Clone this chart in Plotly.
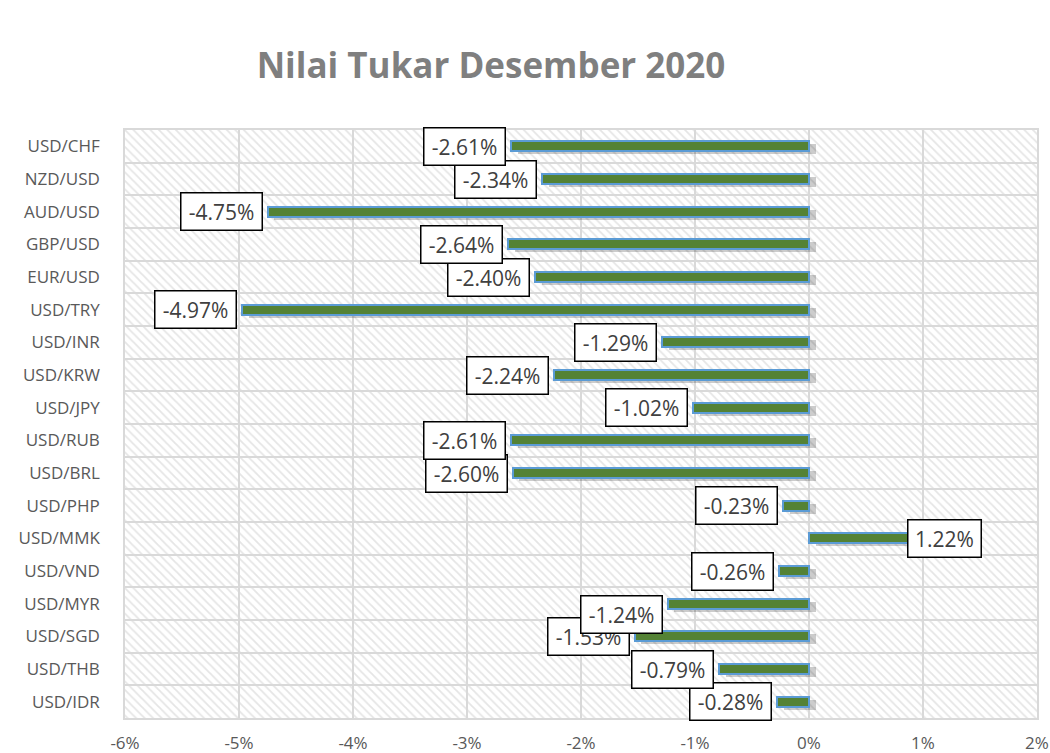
import plotly.graph_objects as go

# ---- data ----
categories = ["USD/CHF", "NZD/USD", "AUD/USD", "GBP/USD", "EUR/USD", "USD/TRY",
              "USD/INR", "USD/KRW", "USD/JPY", "USD/RUB", "USD/BRL", "USD/PHP",
              "USD/MMK", "USD/VND", "USD/MYR", "USD/SGD", "USD/THB", "USD/IDR"]
changes = [-2.61, -2.34, -4.75, -2.64, -2.40, -4.97, -1.29, -2.24, -1.02,
           -2.61, -2.60, -0.23, 1.22, -0.26, -1.24, -1.53, -0.79, -0.28]
x_ticks = [-6, -5, -4, -3, -2, -1, 0, 1, 2]
x_ticklabels = [f"{t}%" for t in x_ticks]
title_text = "Nilai Tukar Desember 2020"

# ---- styling ----
FONT = "Open Sans"
GRID = "#d9d9d9"
BAR_FILL = "#548235"
BAR_LINE = "#5b9bd5"
BAR_W = 0.3
label_nudge_y = {"USD/MYR": -11}

n = len(categories)
pos = list(range(n))
xmin, xmax = x_ticks[0], x_ticks[-1]

fig = go.Figure()

# hatched plot background (subplot 1)
fig.add_trace(go.Bar(
    y=pos, x=[xmax - xmin] * n, base=[xmin] * n, orientation="h", width=1,
    marker=dict(color="white", line=dict(width=0),
                pattern=dict(shape="\\", fgcolor="#cccccc", bgcolor="white",
                             size=6, solidity=0.3)),
    xaxis="x", yaxis="y", hoverinfo="skip", showlegend=False))

# shadow of the bars (subplot 2)
fig.add_trace(go.Bar(
    y=pos, x=changes, base=[0.06] * n, orientation="h", width=BAR_W,
    offset=-BAR_W / 2 + 0.09,
    marker=dict(color="rgba(0,0,0,0.2)", line=dict(width=0)),
    xaxis="x2", yaxis="y2", hoverinfo="skip", showlegend=False))

# data bars
fig.add_trace(go.Bar(
    y=pos, x=changes, orientation="h", width=BAR_W,
    marker=dict(color=BAR_FILL, line=dict(color=BAR_LINE, width=2)),
    xaxis="x2", yaxis="y2", showlegend=False))

annotations = []
for i in reversed(range(n)):
    v = changes[i]
    neg = v < 0
    annotations.append(dict(
        x=v, y=i, xref="x2", yref="y2", text=f"{v:.2f}%", showarrow=False,
        xanchor="right" if neg else "center", xshift=-5 if neg else -4,
        yshift=label_nudge_y.get(categories[i], 0),
        font=dict(family=FONT, size=21, color="#404040"),
        bgcolor="white", bordercolor="black", borderwidth=1.5, borderpad=4,
        width=72 if neg else 64, align="center"))

fig.update_layout(
    width=1050, height=753,
    margin=dict(l=125, r=13, t=130, b=35, autoexpand=False),
    paper_bgcolor="white", plot_bgcolor="rgba(0,0,0,0)",
    barmode="overlay", bargap=0,
    title=dict(text=title_text, x=491 / 1050, xanchor="center", xref="container",
               y=1 - 66 / 753, yanchor="middle", yref="container",
               font=dict(family=FONT, size=35, color="#7f7f7f", weight=700)),
    xaxis=dict(domain=[0, 1], range=[xmin, xmax], visible=False, anchor="y",
               fixedrange=True),
    yaxis=dict(domain=[0, 1], range=[n - 0.5, -0.5], visible=False, anchor="x",
               fixedrange=True),
    xaxis2=dict(domain=[0, 1], range=[xmin, xmax], anchor="y2", automargin=False,
                tickmode="array", tickvals=x_ticks, ticktext=x_ticklabels,
                showgrid=True, gridcolor=GRID, gridwidth=1.5, zeroline=False,
                showline=True, linecolor=GRID, linewidth=1.5, mirror=True,
                ticks="", ticklabelstandoff=9,
                tickfont=dict(family=FONT, size=17, color="#595959")),
    yaxis2=dict(domain=[0, 1], range=[n - 0.5, -0.5], anchor="x2", automargin=False,
                tickmode="array", tickvals=pos, ticktext=categories,
                showgrid=False, zeroline=False,
                minor=dict(tick0=0.5, dtick=1, showgrid=True, gridcolor=GRID,
                           gridwidth=1.5, ticks=""),
                showline=True, linecolor=GRID, linewidth=1.5, mirror=True,
                ticks="", ticklabelstandoff=20,
                tickfont=dict(family=FONT, size=17, color="#595959")),
    annotations=annotations,
)

fig.write_html("out.html",
               config={"displayModeBar": False},
               post_script="document.body.style.margin='0';"
                           "document.body.style.overflow='hidden';")
